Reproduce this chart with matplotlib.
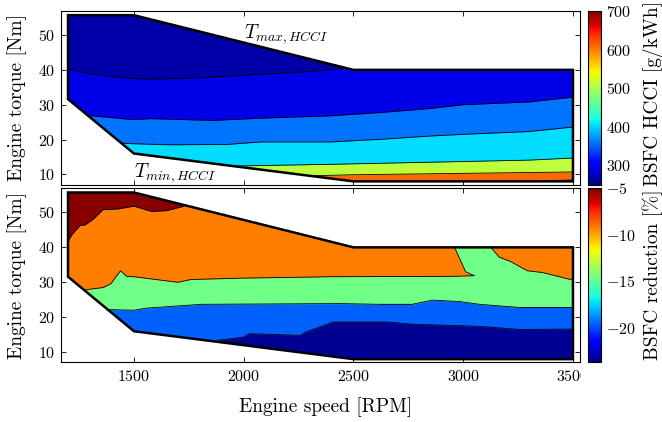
import numpy as np
import matplotlib
matplotlib.use("Agg")
import matplotlib.pyplot as plt
from matplotlib.patches import Polygon, Rectangle
from matplotlib.colors import Normalize
from matplotlib.cm import ScalarMappable

plt.rcParams["font.family"] = "serif"
plt.rcParams["font.serif"] = ["cmr10"]
plt.rcParams["mathtext.fontset"] = "cm"
plt.rcParams["axes.formatter.use_mathtext"] = True
plt.rcParams["axes.unicode_minus"] = True

# HCCI operating region (speed [rpm], torque [Nm])
region_speed = [1200, 1500, 2500, 3500, 3500, 2500, 1500, 1200]
region_torque = [55.7, 55.7, 40.0, 40.0, 8.0, 8.0, 16.0, 31.6]

# ---- top: BSFC HCCI [g/kWh], band values and band boundaries (top to bottom)
bsfc_band_values = [267, 292, 358, 403, 511, 610, 680]

bsfc_b1_speed = [1200, 1300, 1400, 1500, 1575, 1700, 1815, 2040, 2250, 2440, 2520, 3500]
bsfc_b1_torque = [40.2, 38.9, 38.0, 37.5, 37.3, 37.5, 37.8, 38.6, 39.3, 40.3, 41.5, 42.0]

bsfc_b2_speed = [1200, 1295, 1500, 1575, 1860, 2100, 2390, 2630, 2845, 3000, 3300, 3500]
bsfc_b2_torque = [27.5, 26.9, 25.7, 26.0, 25.5, 26.2, 26.8, 27.8, 28.9, 30.0, 30.8, 32.2]

bsfc_b3_speed = [1200, 1400, 1500, 1665, 1925, 2075, 2390, 2630, 2845, 3000, 3300, 3500]
bsfc_b3_torque = [19.5, 19.1, 18.8, 18.5, 18.6, 19.3, 19.3, 20.1, 21.0, 21.5, 22.3, 23.6]

bsfc_b4_speed = [1200, 1900, 1950, 2400, 2850, 3300, 3500]
bsfc_b4_torque = [5.0, 12.0, 12.4, 12.9, 13.5, 14.1, 14.7]

bsfc_b5_speed = [1200, 2200, 2300, 2500, 3000, 3500]
bsfc_b5_torque = [5.0, 9.0, 9.6, 9.9, 10.3, 10.7]

bsfc_b6_speed = [1200, 3200, 3500]
bsfc_b6_torque = [5.0, 7.9, 8.4]

# ---- bottom: BSFC reduction [%], band values and band boundaries
red_band_values = [-5.2, -9.2, -14.6, -19.6, -23.4]

red_r1_speed = [1200, 1217, 1255, 1277, 1315, 1359, 1428, 1500, 1580, 1648, 1723, 1760, 3500]
red_r1_torque = [41.7, 43.6, 46.3, 46.4, 48.1, 50.8, 51.0, 51.8, 50.3, 50.5, 51.7, 53.5, 60.0]

red_og_speed = [1200, 1285, 1360, 1395, 1439, 1467, 1500, 1600, 1700, 1760, 2000, 2400, 2950, 3050]
red_og_torque = [24.0, 27.9, 28.5, 29.6, 33.3, 31.7, 31.6, 30.8, 30.0, 30.8, 31.2, 31.6, 31.7, 31.9]

red_tongue_speed = [2959, 2997, 3011, 3050]
red_tongue_torque = [40.2, 35.0, 33.0, 31.9]

red_og2_speed = [3122, 3126, 3164, 3217, 3292, 3361, 3482, 3500]
red_og2_torque = [41.0, 40.0, 37.2, 35.9, 33.3, 32.8, 30.9, 30.8]

red_gb_speed = [1200, 1380, 1500, 1555, 1809, 2436, 2618, 2768, 2860, 2982, 3073, 3255, 3500]
red_gb_torque = [15.0, 22.2, 22.0, 22.6, 23.7, 23.9, 23.7, 23.7, 24.9, 24.5, 23.7, 22.8, 22.8]

red_bn_speed = [1200, 1860, 1997, 2027, 2255, 2285, 2406, 2618, 2664, 2768, 3073, 3255, 3500]
red_bn_torque = [5.0, 13.2, 14.3, 15.3, 14.8, 15.8, 18.6, 18.6, 18.6, 18.0, 17.4, 16.5, 16.6]

cmap = plt.get_cmap("jet")
norm_bsfc = Normalize(250, 700)
norm_red = Normalize(-23.7, -5)


def outline(ax):
    poly = Polygon(np.column_stack([region_speed, region_torque]), closed=True,
                   facecolor="none", edgecolor="black", lw=1.8, zorder=5,
                   joinstyle="miter")
    ax.add_patch(poly)
    return poly


def band(ax, clip, x, y, color, lower=0.0):
    f = ax.fill_between(x, lower, y, color=color, lw=0, zorder=1)
    f.set_clip_path(clip)


def edge(ax, clip, x, y):
    (ln,) = ax.plot(x, y, color="black", lw=0.6, zorder=3)
    ln.set_clip_path(clip)


def style(ax):
    ax.set_xlim(1168, 3532)
    ax.set_ylim(7.1, 56.9)
    ax.set_xticks([1500, 2000, 2500, 3000, 3500])
    ax.set_yticks([10, 20, 30, 40, 50])
    ax.tick_params(direction="in", top=True, right=True, length=3.5,
                   width=0.6, labelsize=11.5)
    ax.tick_params(axis="y", pad=4)
    ax.tick_params(axis="x", pad=5)
    for s in ax.spines.values():
        s.set_linewidth(0.8)
    ax.set_ylabel("Engine torque [Nm]", fontsize=14)
    ax.yaxis.set_label_coords(-0.0655, 0.5)


fig = plt.figure(figsize=(6.62, 4.22), dpi=100)
ax1 = fig.add_axes([61 / 662, 1 - 184.5 / 422, 519 / 662, 173.5 / 422])
ax2 = fig.add_axes([61 / 662, 1 - 362.3 / 422, 519 / 662, 174 / 422])
cax1 = fig.add_axes([588 / 662, 1 - 184.5 / 422, 13 / 662, 173.5 / 422])
cax2 = fig.add_axes([588 / 662, 1 - 362.3 / 422, 13 / 662, 174 / 422])

# top panel
clip1 = outline(ax1)
top_cols = [cmap(norm_bsfc(v)) for v in bsfc_band_values]
band(ax1, clip1, [1200, 3500], [60, 60], top_cols[0])
top_bounds = [(bsfc_b1_speed, bsfc_b1_torque), (bsfc_b2_speed, bsfc_b2_torque),
              (bsfc_b3_speed, bsfc_b3_torque), (bsfc_b4_speed, bsfc_b4_torque),
              (bsfc_b5_speed, bsfc_b5_torque), (bsfc_b6_speed, bsfc_b6_torque)]
for (bx, by), c in zip(top_bounds, top_cols[1:]):
    band(ax1, clip1, bx, by, c)
for bx, by in top_bounds:
    edge(ax1, clip1, bx, by)
ax1.text(2000, 50.2, r"$T_{max,HCCI}$", fontsize=14, ha="left", va="center")
ax1.text(1500, 10.3, r"$T_{min,HCCI}$", fontsize=14, ha="left", va="center")
style(ax1)
ax1.tick_params(labelbottom=False)

# bottom panel
clip2 = outline(ax2)
bot_cols = [cmap(norm_red(v)) for v in red_band_values]
band(ax2, clip2, [1200, 3500], [60, 60], bot_cols[0])
band(ax2, clip2, red_r1_speed, red_r1_torque, bot_cols[1])
band(ax2, clip2, red_og_speed, red_og_torque, bot_cols[2])
band(ax2, clip2, [3048, 3132], [45, 45], bot_cols[2])
band(ax2, clip2, red_og2_speed, red_og2_torque, bot_cols[2])
band(ax2, clip2, red_tongue_speed, [45] * len(red_tongue_speed), bot_cols[2],
     lower=red_tongue_torque)
band(ax2, clip2, red_gb_speed, red_gb_torque, bot_cols[3])
band(ax2, clip2, red_bn_speed, red_bn_torque, bot_cols[4])
for bx, by in [(red_r1_speed, red_r1_torque), (red_og_speed, red_og_torque),
               (red_tongue_speed, red_tongue_torque), (red_og2_speed, red_og2_torque),
               (red_gb_speed, red_gb_torque), (red_bn_speed, red_bn_torque)]:
    edge(ax2, clip2, bx, by)
style(ax2)
ax2.set_xlabel("Engine speed [RPM]", fontsize=14)
ax2.xaxis.set_label_coords(0.51, -0.2)

# colorbars
cb1 = fig.colorbar(ScalarMappable(norm_bsfc, cmap), cax=cax1)
cb1.set_ticks([300, 400, 500, 600, 700])
cb2 = fig.colorbar(ScalarMappable(norm_red, cmap), cax=cax2)
cb2.set_ticks([-20, -15, -10, -5])
for cb in (cb1, cb2):
    cb.outline.set_linewidth(0.8)
    cb.ax.tick_params(length=0, labelsize=11.5, pad=3.5)
fig.text(653 / 662, 1 - 93 / 422, "BSFC HCCI [g/kWh]", rotation=90,
         ha="center", va="center", fontsize=14)
fig.text(653 / 662, 1 - 275 / 422, "BSFC reduction [%]", rotation=90,
         ha="center", va="center", fontsize=14)

# the last x tick label is partly hidden behind the colorbar area
fig.add_artist(Rectangle((581 / 662, 1 - 392 / 422), 7 / 662, 27 / 422,
                         transform=fig.transFigure, facecolor="white",
                         edgecolor="none", zorder=10))

fig.savefig("out.png", dpi=100)
